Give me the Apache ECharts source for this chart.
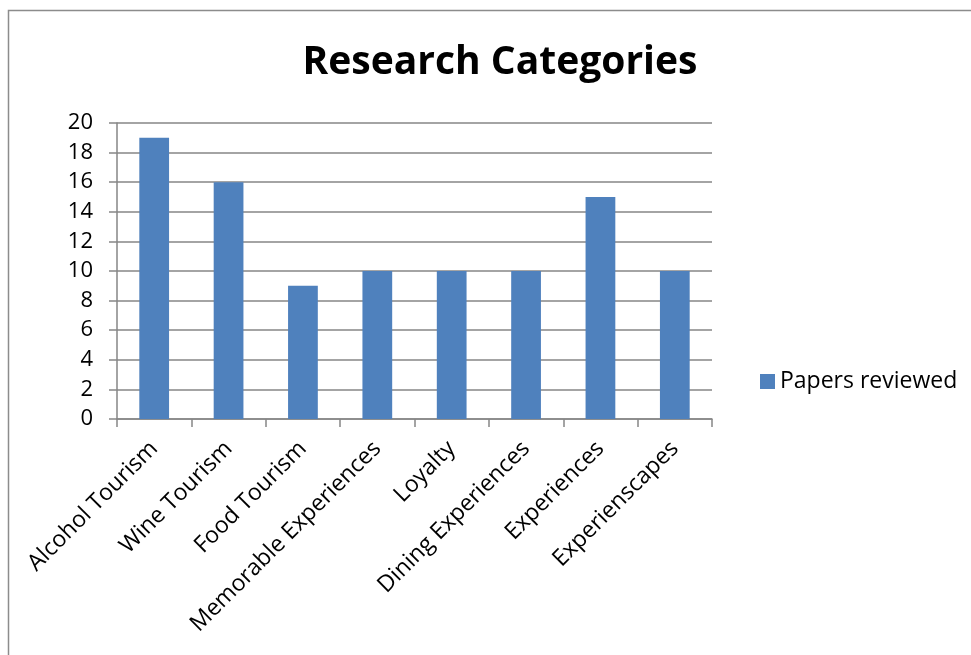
<!DOCTYPE html>
<html>
<head>
<meta charset="utf-8">
<script src="https://cdn.jsdelivr.net/npm/echarts@6/dist/echarts.min.js"></script>
<style>
html,body{margin:0;padding:0;background:#fff;}
#c{width:971px;height:655px;}
</style>
</head>
<body>
<div id="c"></div>
<script>
const categories = ["Alcohol Tourism","Wine Tourism","Food Tourism","Memorable Experiences","Loyalty","Dining Experiences","Experiences","Experienscapes"];
const papersReviewed = [19,16,9,10,10,10,15,10];
const seriesName = "Papers reviewed";
const titleText = "Research Categories";

const FONT = "Open Sans";
const chart = echarts.init(document.getElementById('c'));
chart.setOption({
  animation:false,
  backgroundColor:'#fff',
  graphic:[{type:'rect',shape:{x:8.5,y:10.5,width:1000,height:700},style:{fill:'none',stroke:'#8c8c8c',lineWidth:1.5},silent:true,z:-1}],
  title:{text:titleText,left:495,top:38,textAlign:'center',
    textStyle:{fontFamily:FONT,fontWeight:'bold',fontSize:39,color:'#000'}},
  legend:{data:[seriesName],left:755,top:365,itemWidth:15,itemHeight:15,itemGap:5,
    icon:'rect',textStyle:{fontFamily:FONT,fontSize:23,color:'#000'}},
  grid:{left:117,right:259,top:123,bottom:236,containLabel:false},
  xAxis:{type:'category',data:categories,
    axisLine:{lineStyle:{color:'#868686',width:1.5}},
    axisTick:{show:true,length:8,lineStyle:{color:'#868686',width:1.5}},
    axisLabel:{rotate:45,margin:26,interval:0,fontFamily:FONT,fontSize:23,color:'#000'}},
  yAxis:{type:'value',min:0,max:20,interval:2,
    axisLine:{show:true,lineStyle:{color:'#868686',width:1.5}},
    axisTick:{show:true,length:8,lineStyle:{color:'#868686',width:1.5}},
    splitLine:{lineStyle:{color:'#868686',width:1.5}},
    axisLabel:{margin:24,fontFamily:FONT,fontSize:22,color:'#000'}},
  series:[{name:seriesName,type:'bar',data:papersReviewed,barWidth:'40%',
    itemStyle:{color:'#4F81BD'}}]
});
</script>
</body>
</html>
